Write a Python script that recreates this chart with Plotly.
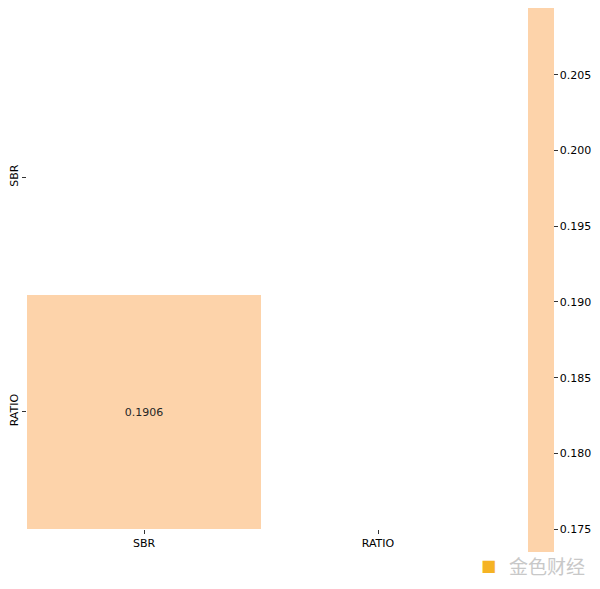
import plotly.graph_objects as go

labels = ["SBR", "RATIO"]
# lower-triangle correlation values (upper triangle + diagonal masked)
z_values = [[None, None],
            [0.1906, None]]
cbar_min = 0.1735
cbar_max = 0.2094
cbar_ticks = [0.175, 0.180, 0.185, 0.190, 0.195, 0.200, 0.205]
cell_color = "#fdd3aa"

# page body has an 8px margin; figure is sized so it fits the 600x589 window
W, H = 592, 581
L, R, T, B = 19, 105, 52, 60
pw, ph = W - L - R, H - T - B

fig = go.Figure(go.Heatmap(
    z=z_values, x=labels, y=labels,
    zmin=cbar_min, zmax=cbar_max,
    colorscale=[[0, cell_color], [1, cell_color]],
    texttemplate="%{z:.4f}",
    textfont=dict(family="DejaVu Sans", size=11, color="#262626"),
    hoverongaps=False,
    xgap=0, ygap=0,
    colorbar=dict(
        x=(520 - L) / pw, xanchor="left",
        y=-(544 - (H - B)) / ph, yanchor="bottom",
        lenmode="pixels", len=544,
        thickness=26, outlinewidth=0,
        tickvals=cbar_ticks, ticktext=[f"{v:.3f}" for v in cbar_ticks],
        ticks="outside", ticklen=4, tickcolor="#333",
        tickfont=dict(family="DejaVu Sans", size=11, color="#000"),
        xpad=0, ypad=0,
    ),
))

fig.update_xaxes(showgrid=False, zeroline=False, showline=False,
                 ticks="outside", ticklen=4, tickcolor="#333",
                 tickfont=dict(family="DejaVu Sans", size=11, color="#000"))
fig.update_yaxes(showgrid=False, zeroline=False, showline=False,
                 autorange="reversed", tickangle=-90,
                 ticks="outside", ticklen=4, tickcolor="#333",
                 tickfont=dict(family="DejaVu Sans", size=11, color="#000"))

fig.add_annotation(xref="paper", yref="paper", x=(499 - L) / pw, y=-(557 - (H - B)) / ph,
                   text="金色财经", showarrow=False, xanchor="left", yanchor="middle",
                   font=dict(family="Noto Sans CJK SC", size=19, color="#c8c8c8"))
fig.add_annotation(xref="paper", yref="paper", x=(490 - L) / pw, y=-(557 - (H - B)) / ph,
                   text="<b>■</b>", showarrow=False, xanchor="right", yanchor="middle",
                   font=dict(family="DejaVu Sans", size=16, color="#f5b324"))

fig.update_layout(
    width=W, height=H,
    margin=dict(l=L, r=R, t=T, b=B, autoexpand=False),
    plot_bgcolor="white", paper_bgcolor="white",
    font=dict(family="DejaVu Sans"),
)

fig.write_html("out.html")
